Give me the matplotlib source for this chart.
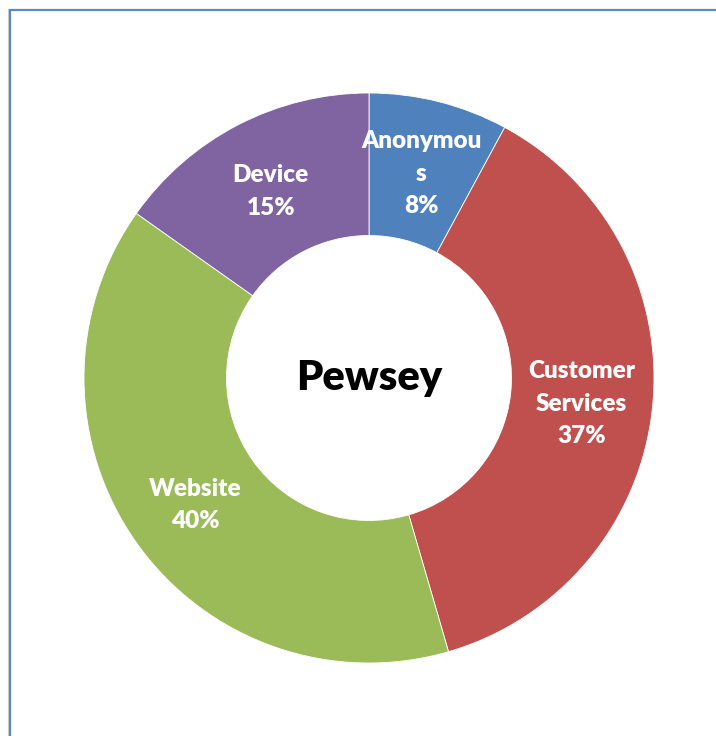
import matplotlib
matplotlib.use("Agg")
from matplotlib import pyplot as plt
from matplotlib.lines import Line2D
import numpy as np

# Dados do gráfico (sentido horário a partir do topo)
categorias = ["Anonymou\ns", "Customer\nServices", "Website", "Device"]
valores = [7.9, 37.6, 39.3, 15.2]
rotulos_pct = ["8%", "37%", "40%", "15%"]
cores = ["#4F81BD", "#C0504D", "#9BBB59", "#8064A2"]
titulo = "Pewsey"

plt.rcParams["font.family"] = ["Lato", "DejaVu Sans"]

fig = plt.figure(figsize=(7.16, 7.36), dpi=100)

# moldura (só esquerda e topo aparecem)
fig.add_artist(Line2D([8.3 / 716, 8.3 / 716], [0, 1 - 9 / 736], transform=fig.transFigure,
                      color="#D0D0D0", lw=0.8))
fig.add_artist(Line2D([10 / 716, 10 / 716, 1.0], [0, 1 - 10 / 736, 1 - 10 / 736],
                      transform=fig.transFigure, color="#5A8AC6", lw=1.6,
                      solid_joinstyle="miter"))

ax = fig.add_axes([84 / 716, 73 / 736, 570 / 716, 570 / 736])
fatias, _ = ax.pie(valores, colors=cores, startangle=90, counterclock=False,
                   radius=1.0, wedgeprops=dict(width=0.5, edgecolor="white", linewidth=0.6))
ax.set_xlim(-1, 1)
ax.set_ylim(-1, 1)
ax.set_aspect("equal")
ax.axis("off")

# rótulos no meio do anel
acumulado = np.cumsum([0] + valores[:-1])
for cat, pct, ini, v in zip(categorias, rotulos_pct, acumulado, valores):
    meio = 90 - (ini + v / 2) / sum(valores) * 360
    r = 0.75
    x = r * np.cos(np.radians(meio))
    y = r * np.sin(np.radians(meio)) - 0.011
    ax.text(x, y, cat + "\n" + pct, ha="center", va="center", color="white",
            fontsize=17.5, fontweight="heavy", linespacing=1.58)

ax.text(0, 0, titulo, ha="center", va="center", fontsize=30, fontweight="heavy", color="black")

fig.savefig("out.png", dpi=100)
